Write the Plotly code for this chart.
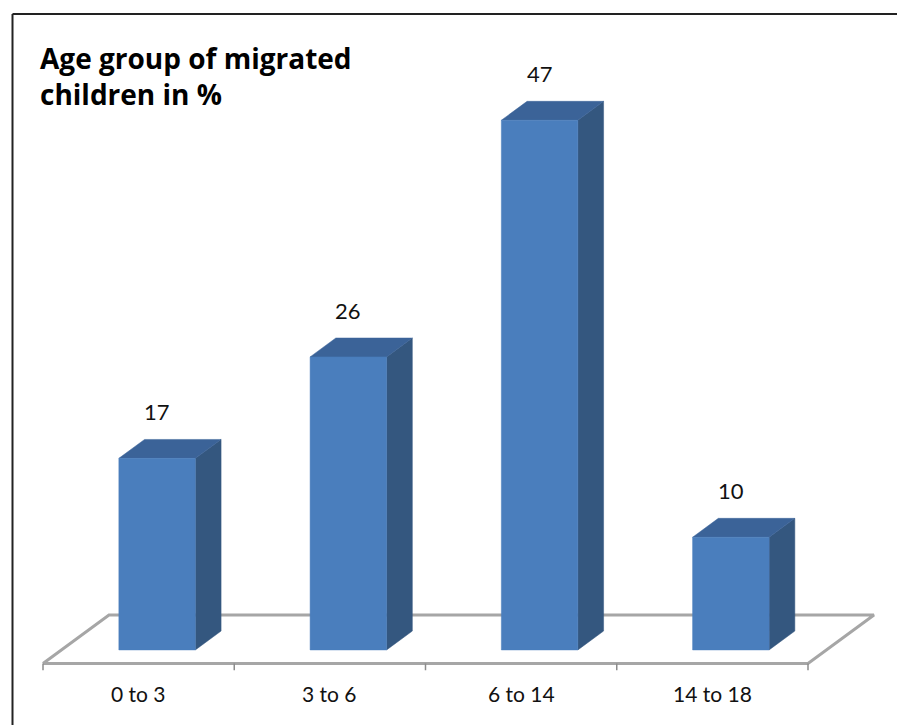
import plotly.graph_objects as go

# Age groups and share of migrated children (%)
categories = ["0 to 3", "3 to 6", "6 to 14", "14 to 18"]
values = [17, 26, 47, 10]
title_text = "Age group of migrated<br>children in %"

# Oblique projection used to fake the 3-D column look
DEPTH_X = 0.345      # horizontal shift of full floor depth (in category units)
DEPTH_Y = 4.30       # vertical shift of full floor depth (in value units)
D_FRONT = 0.28       # depth of the column front face
D_BACK = 0.67        # depth of the column back face
HALF_W = 0.20        # half column width (category units)

FRONT = "#4a7ebd"
SIDE = "#34577f"
TOP = "#3b6398"
FLOOR = "#a6a6a6"


def proj(c, v, d):
    """Project (category, value, depth) onto the flat x/y axes."""
    return c + d * DEPTH_X, v + (d - D_FRONT) * DEPTH_Y


def poly(points, color):
    xs, ys = zip(*[proj(*p) for p in points])
    return go.Scatter(
        x=list(xs) + [xs[0]], y=list(ys) + [ys[0]],
        mode="lines", fill="toself", fillcolor=color,
        line=dict(color=color, width=0.5),
        hoverinfo="skip", showlegend=False,
    )


fig = go.Figure()

# floor outline
n = len(categories)
floor_pts = [(-0.5, 0, 0), (n - 0.5, 0, 0), (n - 0.5, 0, 1), (-0.5, 0, 1), (-0.5, 0, 0)]
fx, fy = zip(*[proj(*p) for p in floor_pts])
fig.add_trace(go.Scatter(x=fx, y=fy, mode="lines",
                         line=dict(color=FLOOR, width=3),
                         hoverinfo="skip", showlegend=False))

# category ticks on the front floor edge
for k in range(n + 1):
    tx, ty = proj(k - 0.5, 0, 0)
    fig.add_trace(go.Scatter(x=[tx, tx], y=[ty, ty - 0.6], mode="lines",
                             line=dict(color="#8c8c8c", width=1.5),
                             hoverinfo="skip", showlegend=False))

# columns
for i, v in enumerate(values):
    l, r = i - HALF_W, i + HALF_W
    fig.add_trace(poly([(r, 0, D_FRONT), (r, 0, D_BACK), (r, v, D_BACK), (r, v, D_FRONT)], SIDE))
    fig.add_trace(poly([(l, v, D_FRONT), (r, v, D_FRONT), (r, v, D_BACK), (l, v, D_BACK)], TOP))
    fig.add_trace(poly([(l, 0, D_FRONT), (r, 0, D_FRONT), (r, v, D_FRONT), (l, v, D_FRONT)], FRONT))

    lx, ly = proj(i, v, D_BACK)
    fig.add_annotation(x=proj(i, v, D_FRONT)[0], y=ly, text=str(v),
                       showarrow=False, yanchor="bottom", yshift=12,
                       font=dict(family="Lato", size=22, color="#111"))

    cx, cy = proj(i, 0, 0)
    fig.add_annotation(x=cx, y=cy, text=categories[i], showarrow=False,
                       yanchor="middle", yshift=-30,
                       font=dict(family="Lato", size=21, color="#111"))

# chart title
fig.add_annotation(xref="paper", yref="paper", x=38 / 897, y=1 - 37 / 725,
                   xanchor="left", yanchor="top", align="left",
                   text="<b>" + title_text + "</b>", showarrow=False,
                   font=dict(family="Open Sans", size=28, color="#000"))

# chart frame (left and top edges)
fig.add_shape(type="line", xref="paper", yref="paper",
              x0=12.5 / 897, x1=12.5 / 897, y0=-0.01, y1=1 - 14 / 725,
              line=dict(color="#222", width=2))
fig.add_shape(type="line", xref="paper", yref="paper",
              x0=12.5 / 897, x1=1.01, y0=1 - 14 / 725, y1=1 - 14 / 725,
              line=dict(color="#222", width=2))

PX_PER_CAT = 191.25
PX_PER_VAL = 11.27
x_min = proj(-0.5, 0, 0)[0] - 43 / PX_PER_CAT   # left floor corner sits at 43 px
y_front = proj(0, 0, 0)[1]
y_max = y_front + 663.5 / PX_PER_VAL

fig.update_layout(
    width=897, height=725,
    margin=dict(l=0, r=0, t=0, b=0),
    paper_bgcolor="white", plot_bgcolor="white",
    xaxis=dict(visible=False, range=[x_min, x_min + 897 / PX_PER_CAT], fixedrange=True),
    yaxis=dict(visible=False, range=[y_max - 725 / PX_PER_VAL, y_max], fixedrange=True),
)

fig.write_html("out.html")
